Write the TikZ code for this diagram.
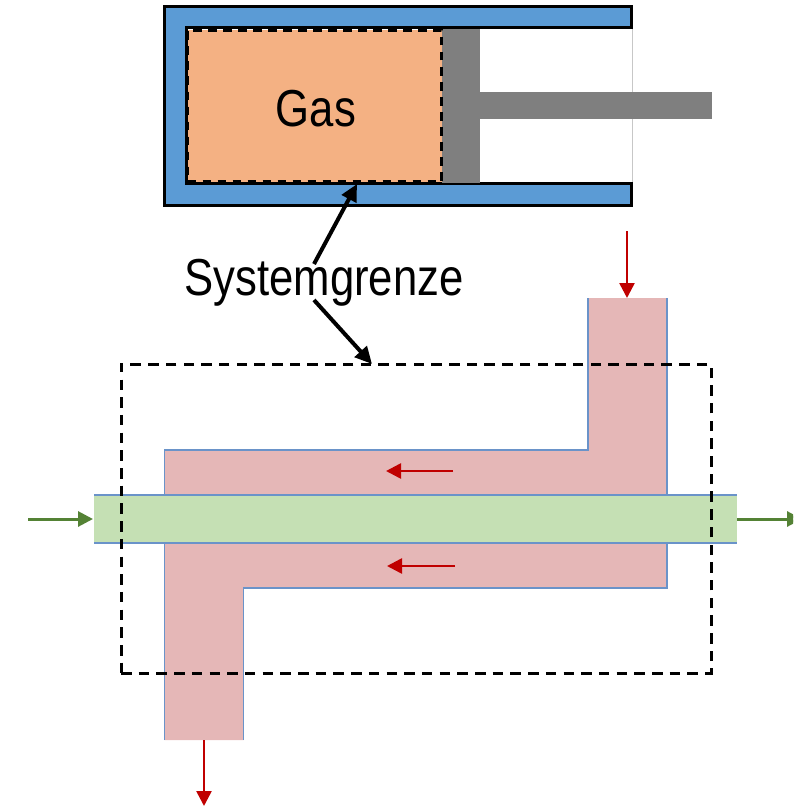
\documentclass[tikz,border=0pt]{standalone}
\usepackage{fontspec}
\usepackage{tikz}
\usetikzlibrary{arrows.meta,calc,positioning}
\newfontfamily\schrift[FakeStretch=0.84]{Liberation Sans}
\definecolor{WandBlau}{HTML}{5B9BD5}
\definecolor{GasOrange}{HTML}{F4B183}
\definecolor{KolbenGrau}{HTML}{7F7F7F}
\definecolor{HeissRot}{HTML}{E5B7B7}
\definecolor{KaltGruen}{HTML}{C5E0B4}
\definecolor{KanteBlau}{HTML}{6A93C9}
\definecolor{PfeilRot}{HTML}{C00000}
\definecolor{PfeilGruen}{HTML}{548235}

\begin{document}
\begin{tikzpicture}[
      x=1pt, y=-1pt,
      block/.style={rectangle, draw=none, inner sep=0pt, outer sep=0pt},
      grenze/.style={rectangle, draw=black, line width=3pt, inner sep=0pt, outer sep=0pt,
        dash pattern=on 10.5pt off 7.2pt},
      schild/.style={inner sep=0pt, font=\schrift\fontsize{52}{60}\selectfont},
      kante/.style={draw=KanteBlau, line width=1.2pt},
      pfeil/.style={-{Triangle[length=17pt,width=16pt]}, draw=black, line width=4pt},
      pfeilrot/.style={-{Triangle[length=15pt,width=15pt]}, draw=PfeilRot, line width=2.6pt},
      pfeilgruen/.style={-{Triangle[length=15pt,width=15pt]}, draw=PfeilGruen, line width=3pt},
    ]
    \clip (0,0) rectangle (793,808);

    % Zylinder mit Kolben
    \draw[draw=black!22, line width=1pt] (632,28) -- (632,183);
    \fill[WandBlau, draw=black, line width=3pt] (164,7) -- (631,7) -- (631,28) -- (186,28)
      -- (186,183) -- (631,183) -- (631,205) -- (164,205) -- cycle;
    \node[block, fill=KolbenGrau, minimum width=38pt, minimum height=153pt] (kolben) at (461,106) {};
    \node[block, fill=KolbenGrau, minimum width=232pt, minimum height=27pt, anchor=west] (stange) at (kolben.east |- 0,105.5) {};
    \node[grenze, fill=GasOrange, minimum width=254pt, minimum height=151pt,
      dash pattern=on 8.5pt off 6.5pt, line width=2.4pt] (gas) at (314.5,106) {};
    \node[schild] (gastext) at (316,109) {Gas};

    % Beschriftung
    \node[schild] (text) at (324,283) {Systemgrenze};
    \coordinate (obenstart) at (314,264);
    \coordinate (obenziel) at (357,184);
    \coordinate (untenstart) at (314,300);
    \coordinate (untenziel) at (372,364);
    \draw[pfeil] (obenstart) -- (obenziel);
    \draw[pfeil] (untenstart) -- (untenziel);

    % Waermeuebertrager
    \fill[HeissRot] (164.5,740) -- (164.5,450) -- (588,450) -- (588,298) -- (667,298)
      -- (667,588) -- (243.5,588) -- (243.5,740) -- cycle;
    \draw[kante] (164.5,740) -- (164.5,450) -- (588,450) -- (588,298);
    \draw[kante] (667,298) -- (667,588) -- (243.5,588) -- (243.5,740);
    \node[block, fill=KaltGruen, minimum width=643pt, minimum height=48pt] (rohr) at (415.5,519) {};
    \draw[kante] (rohr.north west) -- (rohr.north east);
    \draw[kante] (rohr.south west) -- (rohr.south east);
    \node[grenze, minimum width=590pt, minimum height=309pt] (system) at (416,518.5) {};

    \coordinate (roteinlauf) at (627,231);
    \coordinate (rotein) at (627,298);
    \coordinate (mitte1a) at (453,471);
    \coordinate (mitte1b) at (386,471);
    \coordinate (mitte2a) at (455,566);
    \coordinate (mitte2b) at (387,566);
    \coordinate (rotaus) at (204,740);
    \coordinate (rotende) at (204,806);
    \coordinate (gruenstart) at (28,519);
    \coordinate (gruenende) at (802,519);

    \draw[pfeilrot] (roteinlauf) -- (rotein);
    \draw[pfeilrot] (mitte1a) -- (mitte1b);
    \draw[pfeilrot] (mitte2a) -- (mitte2b);
    \draw[pfeilrot] (rotaus) -- (rotende);
    \draw[pfeilgruen] (gruenstart) -- ($(rohr.west)+(-1,0)$);
    \draw[pfeilgruen] (rohr.east) -- (gruenende);

  \end{tikzpicture}
\end{document}
